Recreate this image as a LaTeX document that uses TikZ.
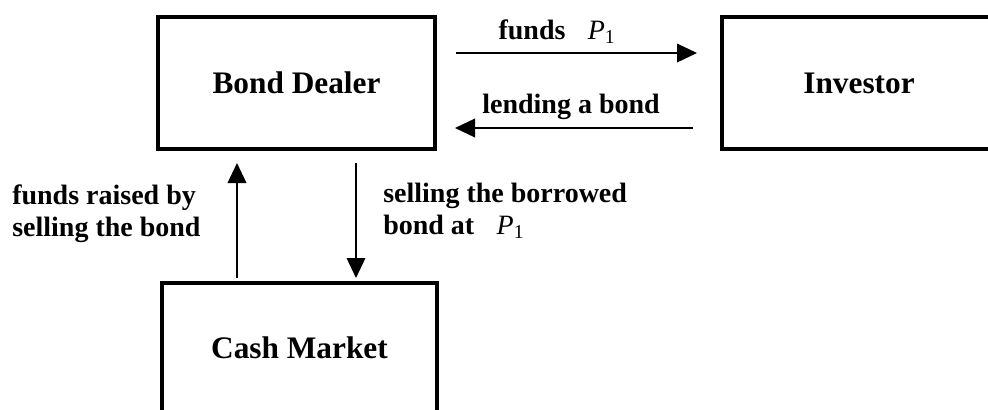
\documentclass[tikz,border=0pt]{standalone}
\usepackage{fontspec}
\setmainfont{Liberation Serif}
\usetikzlibrary{arrows.meta}
\newcommand{\pone}{{\mdseries\itshape P}\textsubscript{\mdseries 1}}

\begin{document}
\begin{tikzpicture}[x=0.75pt,y=-0.75pt]
\useasboundingbox (0,0) rectangle (988,410);
\tikzset{party/.style={draw,line width=2.3pt,minimum width=277*0.75pt,minimum height=132*0.75pt,font=\fontsize{23.5}{26}\selectfont\bfseries},
	lbl/.style={font=\fontsize{21}{24}\selectfont\bfseries,inner sep=0pt}}

\node[party] (D) at (296.5,83) {Bond Dealer};
\node[party,minimum width=274*0.75pt] (I) at (859,83) {Investor};
\node[party,minimum width=275*0.75pt,minimum height=130*0.75pt] (C) at (299.5,348) {Cash Market};

\coordinate (f1) at (456,53);
\coordinate (f2) at (697,53);
\coordinate (l1) at (693,128);
\coordinate (l2) at (455,128);
\coordinate (u1) at (237,278);
\coordinate (u2) at (237,163);
\coordinate (s1) at (356,163);
\coordinate (s2) at (356,278);

\path[-{Triangle[length=15pt,width=14pt]},black,line width=1.1pt] (f1) edge (f2);
\path[-{Triangle[length=15pt,width=14pt]},black,line width=1.1pt] (l1) edge (l2);
\path[-{Triangle[length=15pt,width=14pt]},black,line width=1.1pt] (u1) edge (u2);
\path[-{Triangle[length=15pt,width=14pt]},black,line width=1.1pt] (s1) edge (s2);

\node[lbl] (tf) at (557,32) {funds\hspace{0.8em}\pone};
\node[lbl] (tl) at (571,107) {lending a bond};
\node[lbl,anchor=west,align=left] (tr) at (12,214) {funds raised by\\selling the bond};
\node[lbl,anchor=west,align=left] (ts) at (383,211) {selling the borrowed\\bond at\hspace{0.8em}\pone};
\end{tikzpicture}
\end{document}
